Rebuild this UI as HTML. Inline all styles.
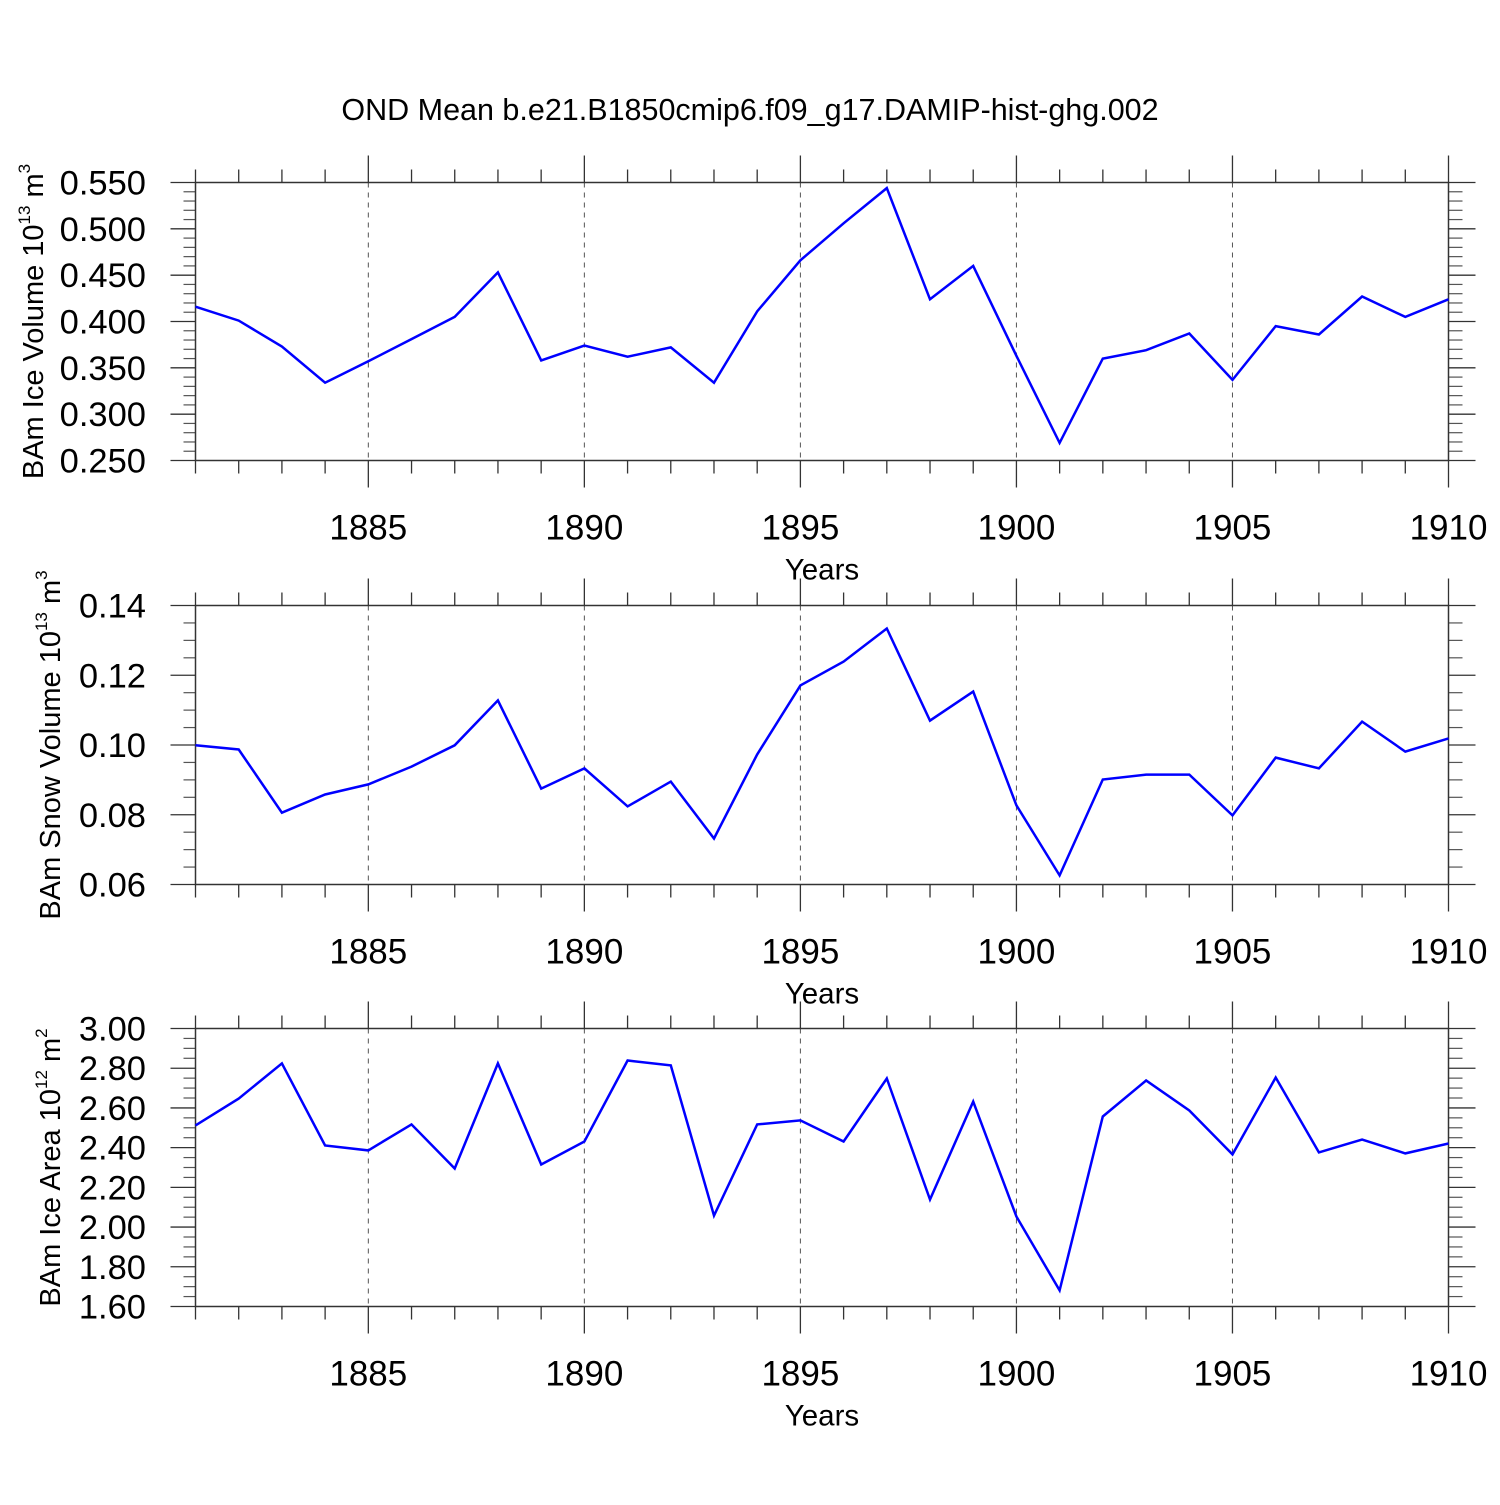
<!DOCTYPE html>
<html><head><meta charset="utf-8"><style>
html,body{margin:0;padding:0;background:#fff;}
svg text{font-family:"Liberation Sans",sans-serif;fill:#000;}
</style></head><body>
<svg id="chart" width="1500" height="1500" viewBox="0 0 1500 1500" xmlns="http://www.w3.org/2000/svg">
<text x="750" y="120" font-size="30.5" text-anchor="middle">OND Mean b.e21.B1850cmip6.f09_g17.DAMIP-hist-ghg.002</text>
</svg>
<script>
const years = [1881,1882,1883,1884,1885,1886,1887,1888,1889,1890,1891,1892,1893,1894,1895,1896,1897,1898,1899,1900,1901,1902,1903,1904,1905,1906,1907,1908,1909,1910];
const iceVolume = [0.416,0.401,0.373,0.334,0.357,0.381,0.405,0.453,0.358,0.374,0.362,0.372,0.334,0.411,0.466,0.506,0.544,0.424,0.460,0.363,0.269,0.360,0.369,0.387,0.337,0.395,0.386,0.427,0.405,0.424];
const snowVolume = [0.0999,0.0987,0.0806,0.0858,0.0887,0.0938,0.0999,0.1128,0.0875,0.0933,0.0824,0.0895,0.0732,0.0973,0.1171,0.1239,0.1334,0.1070,0.1153,0.0827,0.0626,0.0901,0.0915,0.0915,0.0798,0.0964,0.0933,0.1067,0.0981,0.1019];
const iceArea = [2.512,2.647,2.824,2.411,2.386,2.517,2.295,2.824,2.315,2.431,2.839,2.814,2.058,2.517,2.537,2.431,2.748,2.139,2.632,2.053,1.681,2.557,2.738,2.587,2.366,2.753,2.376,2.441,2.371,2.421];
const xTickLabels = ["1885","1890","1895","1900","1905","1910"];
const iceVolTicks = ["0.250","0.300","0.350","0.400","0.450","0.500","0.550"];
const snowTicks = ["0.06","0.08","0.10","0.12","0.14"];
const areaTicks = ["1.60","1.80","2.00","2.20","2.40","2.60","2.80","3.00"];

const svg = document.getElementById('chart');
const NS = 'http://www.w3.org/2000/svg';
function mk(tag, attrs, parent){const e=document.createElementNS(NS,tag);for(const k in attrs)e.setAttribute(k,attrs[k]);(parent||svg).appendChild(e);return e;}

const X0=195.5, X1=1448.5, XMIN=1881, XMAX=1910;
function xs(v){return X0+(v-XMIN)/(XMAX-XMIN)*(X1-X0);}

function panel(name, top, bottom, vals, ticks, minorN, labelMain, sup, unit, labelX){
  const g=mk('g',{});
  
  
  const ymin=parseFloat(ticks[0]), ymax=parseFloat(ticks[ticks.length-1]);
  const ys=v=>bottom-(v-ymin)/(ymax-ymin)*(bottom-top);
  xTickLabels.forEach(t=>{const x=xs(+t); if(+t<XMAX){const l=mk('line',{x1:x,x2:x,y1:top,y2:bottom,stroke:'#555','stroke-width':1,'stroke-dasharray':'5,5'},g);
    
    }});
  for(let yr=XMIN; yr<=XMAX; yr++){
    const x=xs(yr), major=(yr%5===0);
    mk('line',{x1:x,x2:x,y1:top,y2:top-(major?27:13),stroke:'#333','stroke-width':1.3},g);
    mk('line',{x1:x,x2:x,y1:bottom,y2:bottom+(major?27:13),stroke:'#333','stroke-width':1.3},g);
  }
  xTickLabels.forEach(t=>{const tx=mk('text',{x:xs(+t),y:bottom+79,'font-size':35,'text-anchor':'middle'},g);tx.textContent=t;
    
    });
  const xt=mk('text',{x:822,y:bottom+119,'font-size':29.5,'text-anchor':'middle'},g);xt.textContent='Years';
  
  
  const step=(ymax-ymin)/(ticks.length-1);
  for(let i=0;i<ticks.length;i++){
    const v=parseFloat(ticks[i]), y=ys(v);
    mk('line',{x1:X0-25,x2:X0,y1:y,y2:y,stroke:'#333','stroke-width':1.3},g);
    mk('line',{x1:X1,x2:X1+27,y1:y,y2:y,stroke:'#333','stroke-width':1.3},g);
    if(i<ticks.length-1){for(let m=1;m<minorN;m++){const ym=ys(v+step*m/minorN);
      mk('line',{x1:X0-12,x2:X0,y1:ym,y2:ym,stroke:'#555','stroke-width':1.2},g);
      mk('line',{x1:X1,x2:X1+14,y1:ym,y2:ym,stroke:'#555','stroke-width':1.2},g);}}
    const tl=mk('text',{x:146,y:y+12,'font-size':34.5,'text-anchor':'end'},g);tl.textContent=ticks[i];
    
    
  }
  const fr=mk('rect',{x:X0,y:top,width:X1-X0,height:bottom-top,fill:'none',stroke:'#333','stroke-width':1.5},g);
  
  
  const pts=vals.map((v,i)=>xs(years[i]).toFixed(1)+','+ys(v).toFixed(1)).join(' ');
  const pl=mk('polyline',{points:pts,fill:'none',stroke:'#0000ff','stroke-width':2.5,'stroke-linejoin':'miter'},g);
  
  
  const cy=(top+bottom)/2;
  const yt=mk('text',{x:0,y:0,'font-size':29,'text-anchor':'middle',transform:`translate(${labelX},${cy}) rotate(-90)`},g);
  
  
  yt.appendChild(document.createTextNode(labelMain+' 10'));
  const ts=mk('tspan',{'font-size':17,dy:-13},yt);ts.textContent=sup;
  const tu=mk('tspan',{dy:13},yt);tu.textContent=' m';
  const tu2=mk('tspan',{'font-size':17,dy:-13},yt);tu2.textContent=unit;
}
panel('ice-volume',182.5,460.5,iceVolume,iceVolTicks,5,'BAm Ice Volume','13','3',43);
panel('snow-volume',605.5,884.5,snowVolume,snowTicks,4,'BAm Snow Volume','13','3',60);
panel('ice-area',1028.5,1306.5,iceArea,areaTicks,4,'BAm Ice Area','12','2',60);
</script>
</body></html>
